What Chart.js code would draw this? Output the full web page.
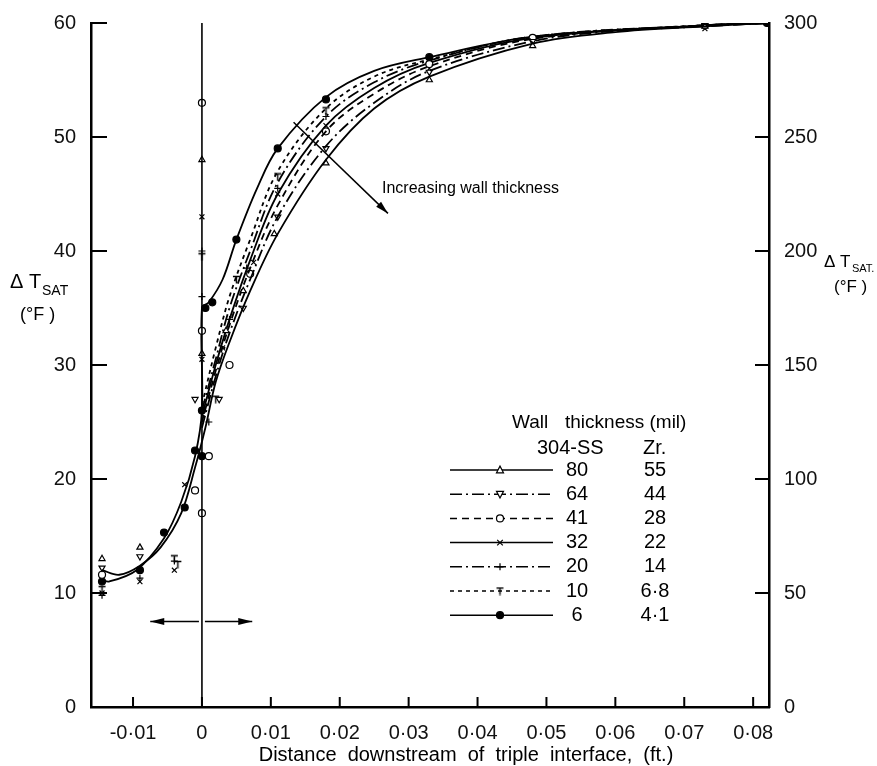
<!DOCTYPE html>
<html>
<head>
<meta charset="utf-8">
<script src="https://cdn.jsdelivr.net/npm/chart.js@4.4.1/dist/chart.umd.min.js"></script>
<style>
  html, body { margin: 0; padding: 0; background: #fff; }
  #wrap { width: 877px; height: 766px; }
</style>
</head>
<body>
<div id="wrap"><canvas id="chart" width="877" height="766"></canvas></div>
<script>
/* ---- axes ---- */
const xTicks = [-0.01, 0, 0.01, 0.02, 0.03, 0.04, 0.05, 0.06, 0.07, 0.08];
const yTicks = [0, 10, 20, 30, 40, 50, 60];
const y2Ticks = [0, 50, 100, 150, 200, 250, 300];

/* ---- legend table ---- */
const ssThick = ['80', '64', '41', '32', '20', '10', '6'];
const zrThick = ['55', '44', '28', '22', '14', '6·8', '4·1'];

/* ---- fitted curves, [x ft, dT F] ---- */
const curve80 = [[-0.0145,12.0],[-0.012,11.6],[-0.009,12.4],[-0.006,14.0],[-0.003,17.0],[-0.001,21],[0.0005,24.5],[0.002,28.5],[0.004,32],[0.007,36.5],[0.011,41.5],[0.018,48],[0.025,52.5],[0.033,55.3],[0.048,58.2],[0.06,59.2],[0.073,59.7],[0.082,60]];
const curve64 = [[0,24.5],[0.002,29],[0.004,32.8],[0.007,37.5],[0.011,43],[0.018,49.2],[0.025,53],[0.033,55.8],[0.048,58.4],[0.06,59.3],[0.073,59.7],[0.082,60]];
const curve41 = [[0,25],[0.002,29.5],[0.004,33.5],[0.007,38.5],[0.011,44],[0.018,50.5],[0.025,53.8],[0.033,56.2],[0.048,58.6],[0.073,59.8],[0.082,60]];
const curve32 = [[0,25.5],[0.002,30],[0.004,34],[0.007,39.2],[0.011,45],[0.018,51],[0.025,54.3],[0.033,56.5],[0.048,58.7],[0.073,59.8],[0.082,60]];
const curve20 = [[0,26],[0.002,30.5],[0.004,35],[0.007,40],[0.011,46],[0.018,51.8],[0.025,54.8],[0.033,56.7],[0.048,58.8],[0.073,59.8],[0.082,60]];
const curve10 = [[0,26.5],[0.002,31.5],[0.004,36],[0.007,41],[0.011,47],[0.018,52.5],[0.025,55.3],[0.033,56.8],[0.048,58.8],[0.073,59.8],[0.082,60]];
const curve6 = [[-0.0145,11.2],[-0.0135,11.0],[-0.0095,12.0],[-0.0055,14.8],[-0.003,18],[-0.001,22],[0,26],[0,35],[0.001,35.5],[0.003,37.5],[0.005,41],[0.008,45.5],[0.011,49],[0.018,53.5],[0.025,55.8],[0.033,57],[0.048,58.8],[0.073,59.8],[0.082,60]];

/* ---- measured points ---- */
const pts80 = [[-0.0145,13],[-0.009,14],[0,31],[0,48],[0.0035,33],[0.006,36.5],[0.0105,41.5],[0.018,47.7],[0.033,55],[0.048,58],[0.073,59.7]];
const pts64 = [[-0.0145,12.2],[-0.009,13.2],[-0.001,27],[0.0025,27],[0.006,35],[0.011,43],[0.018,49],[0.033,55.7],[0.048,58.4]];
const pts41 = [[-0.0145,11.6],[-0.001,19],[0,17],[0,33],[0,53],[0.001,22],[0.004,30],[0.007,38],[0.018,50.5],[0.033,56.4],[0.048,58.7]];
const pts32 = [[-0.0145,10],[-0.009,11],[-0.004,12],[-0.0025,19.5],[0,43],[0,30.5],[0.003,31.5],[0.0075,39],[0.011,45],[0.018,51],[0.033,56],[0.073,59.5]];
const pts20 = [[-0.0145,9.8],[-0.009,11.3],[-0.004,12.8],[0,40],[0,36],[0.001,25],[0.004,34],[0.0065,38.5],[0.011,45.5],[0.018,51.8],[0.033,56.5],[0.082,60]];
const pts10 = [[-0.0145,10.3],[-0.004,13],[-0.0035,12.5],[0,39.5],[0.002,27],[0.005,37.5],[0.011,46.5],[0.018,52.3],[0.033,56.7]];
const pts6 = [[-0.0145,11],[-0.009,12],[-0.0055,15.3],[-0.0025,17.5],[-0.001,22.5],[0,22],[0,26],[0.0005,35],[0.0015,35.5],[0.005,41],[0.011,49],[0.018,53.3],[0.033,57],[0.073,59.8],[0.082,60]];

/* ---- wall line and annotations ---- */
const wallLine = [[0, 0], [0, 60]];
const spreadArrow = [[-0.0075, 7.5], [0.0073, 7.5]];
const trendArrow = [[0.0133, 51.3], [0.027, 43.3]];
const trendText = 'Increasing wall thickness';

const FONT = "'Liberation Sans', Arial, sans-serif";
Chart.defaults.font.family = FONT;
Chart.defaults.color = '#111';

// T-shaped marker used for the 10 mil run
function makeTee() {
  const c = document.createElement('canvas');
  c.width = 9; c.height = 9;
  const g = c.getContext('2d');
  g.strokeStyle = '#000'; g.lineWidth = 1.4;
  g.beginPath();
  g.moveTo(1, 1.5); g.lineTo(8, 1.5);
  g.moveTo(4.5, 1.5); g.lineTo(4.5, 8.5);
  g.stroke();
  return c;
}
const tee = makeTee();

const series = [
  { curve: curve80, pts: pts80, dash: [], style: 'triangle', rot: 0, fill: '#fff' },
  { curve: curve64, pts: pts64, dash: [12, 4, 2, 4], style: 'triangle', rot: 180, fill: '#fff' },
  { curve: curve41, pts: pts41, dash: [7, 5], style: 'circle', rot: 0, fill: '#fff' },
  { curve: curve32, pts: pts32, dash: [], style: 'crossRot', rot: 0, fill: '#fff' },
  { curve: curve20, pts: pts20, dash: [12, 4, 2, 4], style: 'cross', rot: 0, fill: '#fff' },
  { curve: curve10, pts: pts10, dash: [4, 4], style: tee, rot: 0, fill: '#fff' },
  { curve: curve6, pts: pts6, dash: [], style: 'circle', rot: 0, fill: '#000' }
];

const toXY = arr => arr.map(p => ({ x: p[0], y: p[1] }));

const datasets = [{
  data: toXY(wallLine), showLine: true, borderColor: '#000', borderWidth: 1.6,
  pointRadius: 0, yAxisID: 'y'
}];
series.forEach(s => {
  datasets.push({
    data: toXY(s.curve), showLine: true, borderColor: '#000', borderWidth: 1.8,
    borderDash: s.dash, tension: 0.35, pointRadius: 0, yAxisID: 'y'
  });
  datasets.push({
    data: toXY(s.pts), showLine: false, pointStyle: s.style, rotation: s.rot,
    pointRadius: 3.5, borderColor: '#000', backgroundColor: s.fill,
    pointBorderWidth: 1.2, yAxisID: 'y'
  });
});

function fmtX(v) {
  if (Math.abs(v) < 1e-9) return '0';
  return v.toFixed(2).replace('.', '·');
}

function marker(ctx, style, rot, fill, x, y, r) {
  ctx.save();
  ctx.strokeStyle = '#000'; ctx.fillStyle = fill; ctx.lineWidth = 1.2;
  ctx.setLineDash([]);
  if (style === tee) { ctx.drawImage(tee, x - 4.5, y - 4.5); ctx.restore(); return; }
  ctx.translate(x, y); ctx.rotate(rot * Math.PI / 180);
  ctx.beginPath();
  if (style === 'triangle') {
    ctx.moveTo(0, -r * 1.1); ctx.lineTo(r, r * 0.8); ctx.lineTo(-r, r * 0.8); ctx.closePath();
    ctx.fill(); ctx.stroke();
  } else if (style === 'circle') {
    ctx.arc(0, 0, r, 0, Math.PI * 2); ctx.fill(); ctx.stroke();
  } else if (style === 'cross') {
    ctx.moveTo(-r, 0); ctx.lineTo(r, 0); ctx.moveTo(0, -r); ctx.lineTo(0, r); ctx.stroke();
  } else if (style === 'crossRot') {
    ctx.moveTo(-r * 0.8, -r * 0.8); ctx.lineTo(r * 0.8, r * 0.8);
    ctx.moveTo(r * 0.8, -r * 0.8); ctx.lineTo(-r * 0.8, r * 0.8); ctx.stroke();
  }
  ctx.restore();
}

function arrowHead(ctx, x1, y1, x2, y2, len, wid) {
  const a = Math.atan2(y2 - y1, x2 - x1);
  ctx.beginPath();
  ctx.moveTo(x2, y2);
  ctx.lineTo(x2 - len * Math.cos(a) + wid * Math.sin(a), y2 - len * Math.sin(a) - wid * Math.cos(a));
  ctx.lineTo(x2 - len * Math.cos(a) - wid * Math.sin(a), y2 - len * Math.sin(a) + wid * Math.cos(a));
  ctx.closePath();
  ctx.fill();
}

const extras = {
  id: 'extras',
  afterDraw(chart) {
    const ctx = chart.ctx;
    const xs = chart.scales.x, ys = chart.scales.y, y2s = chart.scales.y2;
    const area = chart.chartArea;
    ctx.save();
    ctx.strokeStyle = '#000'; ctx.fillStyle = '#000';

    // inward tick marks
    ctx.lineWidth = 2;
    ctx.beginPath();
    xTicks.forEach(v => {
      const px = xs.getPixelForValue(v);
      ctx.moveTo(px, area.bottom); ctx.lineTo(px, area.bottom - 10);
    });
    yTicks.slice(1).forEach(v => {
      const py = ys.getPixelForValue(v);
      ctx.moveTo(area.left, py); ctx.lineTo(area.left + 16, py);
    });
    y2Ticks.slice(1, -1).forEach(v => {
      const py = y2s.getPixelForValue(v);
      ctx.moveTo(area.right, py); ctx.lineTo(area.right - 14, py);
    });
    ctx.stroke();

    // left axis title
    ctx.textBaseline = 'middle';
    ctx.textAlign = 'left';
    ctx.font = '20px ' + FONT;
    ctx.fillText('\u0394 T', 10, 282);
    ctx.font = '14px ' + FONT;
    ctx.fillText('SAT', 42, 291);
    ctx.font = '18px ' + FONT;
    ctx.fillText('(°F )', 20, 315);

    // right axis title
    ctx.font = '17px ' + FONT;
    ctx.fillText('\u0394 T', 824, 262);
    ctx.font = '11px ' + FONT;
    ctx.fillText('SAT.', 852, 269);
    ctx.font = '17px ' + FONT;
    ctx.fillText('(°F )', 834, 287);

    // x axis title
    ctx.textAlign = 'center';
    ctx.font = '20px ' + FONT;
    ctx.fillText('Distance  downstream  of  triple  interface,  (ft.)', 466, 755);

    // double arrow about the wall
    const ay = ys.getPixelForValue(spreadArrow[0][1]);
    const ax1 = xs.getPixelForValue(spreadArrow[0][0]);
    const ax2 = xs.getPixelForValue(spreadArrow[1][0]);
    const x0 = xs.getPixelForValue(0);
    ctx.lineWidth = 1.5;
    ctx.beginPath();
    ctx.moveTo(ax1, ay); ctx.lineTo(x0 - 3, ay);
    ctx.moveTo(x0 + 3, ay); ctx.lineTo(ax2, ay);
    ctx.stroke();
    arrowHead(ctx, x0, ay, ax1, ay, 14, 3.5);
    arrowHead(ctx, x0, ay, ax2, ay, 14, 3.5);

    // trend arrow and note
    const tx1 = xs.getPixelForValue(trendArrow[0][0]), ty1 = ys.getPixelForValue(trendArrow[0][1]);
    const tx2 = xs.getPixelForValue(trendArrow[1][0]), ty2 = ys.getPixelForValue(trendArrow[1][1]);
    ctx.beginPath(); ctx.moveTo(tx1, ty1); ctx.lineTo(tx2, ty2); ctx.stroke();
    arrowHead(ctx, tx1, ty1, tx2, ty2, 13, 3.5);
    ctx.textAlign = 'left';
    ctx.font = '16px ' + FONT;
    ctx.fillText(trendText, tx2 - 6, ty2 - 25);

    // legend table
    ctx.font = '19px ' + FONT;
    ctx.fillText('Wall', 512, 423);
    ctx.fillText('thickness (mil)', 565, 423);
    ctx.font = '20px ' + FONT;
    ctx.fillText('304-SS', 537, 448);
    ctx.fillText('Zr.', 643, 448);
    series.forEach((s, i) => {
      const ly = 470 + i * 24.2;
      ctx.save();
      ctx.lineWidth = 1.5;
      ctx.setLineDash(s.dash);
      ctx.beginPath(); ctx.moveTo(450, ly); ctx.lineTo(553, ly); ctx.stroke();
      ctx.restore();
      marker(ctx, s.style, s.rot, s.fill, 500, ly, 3.5);
      ctx.textAlign = 'center';
      ctx.font = '20px ' + FONT;
      ctx.fillText(ssThick[i], 577, ly);
      ctx.fillText(zrThick[i], 655, ly);
      ctx.textAlign = 'left';
    });
    ctx.restore();
  }
};

new Chart(document.getElementById('chart').getContext('2d'), {
  type: 'scatter',
  data: { datasets },
  options: {
    responsive: false,
    animation: false,
    devicePixelRatio: 1,
    layout: { padding: { top: 23, left: 0, right: 0, bottom: 0 } },
    plugins: { legend: { display: false }, tooltip: { enabled: false } },
    scales: {
      x: {
        type: 'linear', position: 'bottom', min: -0.0161, max: 0.0823,
        grid: { display: false },
        border: { display: true, color: '#000', width: 2.5 },
        ticks: { font: { size: 20 }, color: '#111', padding: 6, callback: fmtX },
        afterBuildTicks: s => { s.ticks = xTicks.map(v => ({ value: v })); },
        afterFit: s => { s.height = 59; }
      },
      y: {
        type: 'linear', position: 'left', min: 0, max: 60,
        grid: { display: false },
        border: { display: true, color: '#000', width: 2.5 },
        ticks: { font: { size: 20 }, color: '#111', padding: 7 },
        afterBuildTicks: s => { s.ticks = yTicks.map(v => ({ value: v })); },
        afterFit: s => { s.width = 91; }
      },
      y2: {
        type: 'linear', position: 'right', min: 0, max: 300,
        grid: { display: false },
        border: { display: true, color: '#000', width: 2.5 },
        ticks: { font: { size: 20 }, color: '#111', padding: 7 },
        afterBuildTicks: s => { s.ticks = y2Ticks.map(v => ({ value: v })); },
        afterFit: s => { s.width = 108; }
      }
    }
  },
  plugins: [extras]
});
</script>
</body>
</html>
